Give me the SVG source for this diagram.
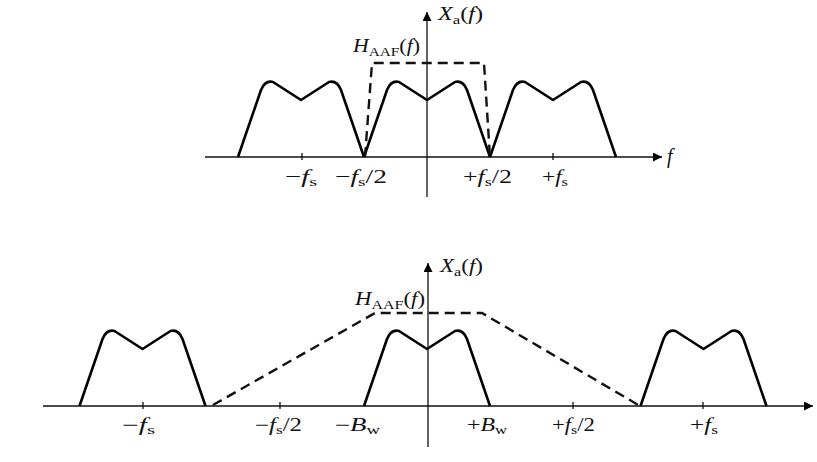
<svg xmlns="http://www.w3.org/2000/svg" width="817" height="462" viewBox="0 0 817 462">
<style>
.axis{stroke:#111;stroke-width:1.3;fill:none}
.tick{stroke:#111;stroke-width:1.3}
.lobe{stroke:#000;stroke-width:2.6;fill:none;stroke-linejoin:round}
.filt{stroke:#111;stroke-width:2.4;fill:none;stroke-dasharray:10 6}
.lbl{font-family:"Liberation Serif",serif;fill:#111}
.i{font-style:italic}
.sub{font-size:0.7em}
</style>
<defs>
<path id="lobe" d="M-63,0 L-40,-67 Q-36,-77 -28,-75 L0,-57 L28,-75 Q36,-77 40,-67 L63,0"/>
<marker id="ah" viewBox="0 0 10 10" refX="10" refY="5" markerWidth="10" markerHeight="9" markerUnits="userSpaceOnUse" orient="auto">
<path d="M0,0 L10,5 L0,10 Z" fill="#000"/>
</marker>
</defs>
<rect width="817" height="462" fill="#fff"/>

<g id="top-diagram">
<g id="top-axes">
<line class="axis" x1="205" y1="157" x2="662" y2="157" marker-end="url(#ah)"/>
<line class="axis" x1="427" y1="197" x2="427" y2="12" marker-end="url(#ah)"/>
<line class="tick" x1="302" y1="153" x2="302" y2="160"/>
<line class="tick" x1="553" y1="153" x2="553" y2="160"/>
</g>
<g id="top-spectrum">
<use href="#lobe" class="lobe" x="301" y="157"/>
<use href="#lobe" class="lobe" x="427" y="157"/>
<use href="#lobe" class="lobe" x="553" y="157"/>
</g>
<g id="top-filter">
<path class="filt" d="M365,157 L372,63 L484,63 L490,157"/>
</g>
<g id="top-labels" class="lbl" font-size="19">
<text x="438" y="20" textLength="45" lengthAdjust="spacingAndGlyphs"><tspan class="i">X</tspan><tspan class="sub" dy="4">a</tspan><tspan dy="-4">(</tspan><tspan class="i">f</tspan>)</text>
<text x="353" y="52" textLength="67" lengthAdjust="spacingAndGlyphs"><tspan class="i">H</tspan><tspan class="sub" dy="4">AAF</tspan><tspan dy="-4">(</tspan><tspan class="i">f</tspan>)</text>
<text x="667" y="163" font-size="20" class="i">f</text>
<text x="285" y="183" textLength="32" lengthAdjust="spacingAndGlyphs">−<tspan class="i">f</tspan><tspan class="sub" dy="3">s</tspan></text>
<text x="335" y="183" textLength="52" lengthAdjust="spacingAndGlyphs">−<tspan class="i">f</tspan><tspan class="sub" dy="3">s</tspan><tspan dy="-3">/2</tspan></text>
<text x="463" y="183" textLength="49" lengthAdjust="spacingAndGlyphs">+<tspan class="i">f</tspan><tspan class="sub" dy="3">s</tspan><tspan dy="-3">/2</tspan></text>
<text x="542" y="183" textLength="26" lengthAdjust="spacingAndGlyphs">+<tspan class="i">f</tspan><tspan class="sub" dy="3">s</tspan></text>
</g>
</g>

<g id="bottom-diagram">
<g id="bottom-axes">
<line class="axis" x1="43" y1="406" x2="813" y2="406" marker-end="url(#ah)"/>
<line class="axis" x1="428" y1="447" x2="428" y2="263" marker-end="url(#ah)"/>
<line class="tick" x1="143" y1="402" x2="143" y2="409"/>
<line class="tick" x1="280" y1="402" x2="280" y2="409"/>
<line class="tick" x1="573" y1="402" x2="573" y2="409"/>
<line class="tick" x1="703" y1="402" x2="703" y2="409"/>
</g>
<g id="bottom-spectrum">
<use href="#lobe" class="lobe" x="142.5" y="406"/>
<use href="#lobe" class="lobe" x="427" y="406"/>
<use href="#lobe" class="lobe" x="703.5" y="406"/>
</g>
<g id="bottom-filter">
<path class="filt" d="M213,405 L375,313 L482,313 L640,406"/>
</g>
<g id="bottom-labels" class="lbl" font-size="18">
<text x="440" y="272" textLength="43" lengthAdjust="spacingAndGlyphs"><tspan class="i">X</tspan><tspan class="sub" dy="4">a</tspan><tspan dy="-4">(</tspan><tspan class="i">f</tspan>)</text>
<text x="355" y="305" textLength="70" lengthAdjust="spacingAndGlyphs"><tspan class="i">H</tspan><tspan class="sub" dy="4">AAF</tspan><tspan dy="-4">(</tspan><tspan class="i">f</tspan>)</text>
<text x="122" y="431" textLength="33" lengthAdjust="spacingAndGlyphs">−<tspan class="i">f</tspan><tspan class="sub" dy="3">s</tspan></text>
<text x="255" y="431" textLength="47" lengthAdjust="spacingAndGlyphs">−<tspan class="i">f</tspan><tspan class="sub" dy="3">s</tspan><tspan dy="-3">/2</tspan></text>
<text x="335" y="431" textLength="45" lengthAdjust="spacingAndGlyphs">−<tspan class="i">B</tspan><tspan class="sub" dy="3">w</tspan></text>
<text x="467" y="431" textLength="40" lengthAdjust="spacingAndGlyphs">+<tspan class="i">B</tspan><tspan class="sub" dy="3">w</tspan></text>
<text x="552" y="431" textLength="43" lengthAdjust="spacingAndGlyphs">+<tspan class="i">f</tspan><tspan class="sub" dy="3">s</tspan><tspan dy="-3">/2</tspan></text>
<text x="690" y="431" textLength="28" lengthAdjust="spacingAndGlyphs">+<tspan class="i">f</tspan><tspan class="sub" dy="3">s</tspan></text>
</g>
</g>
</svg>
